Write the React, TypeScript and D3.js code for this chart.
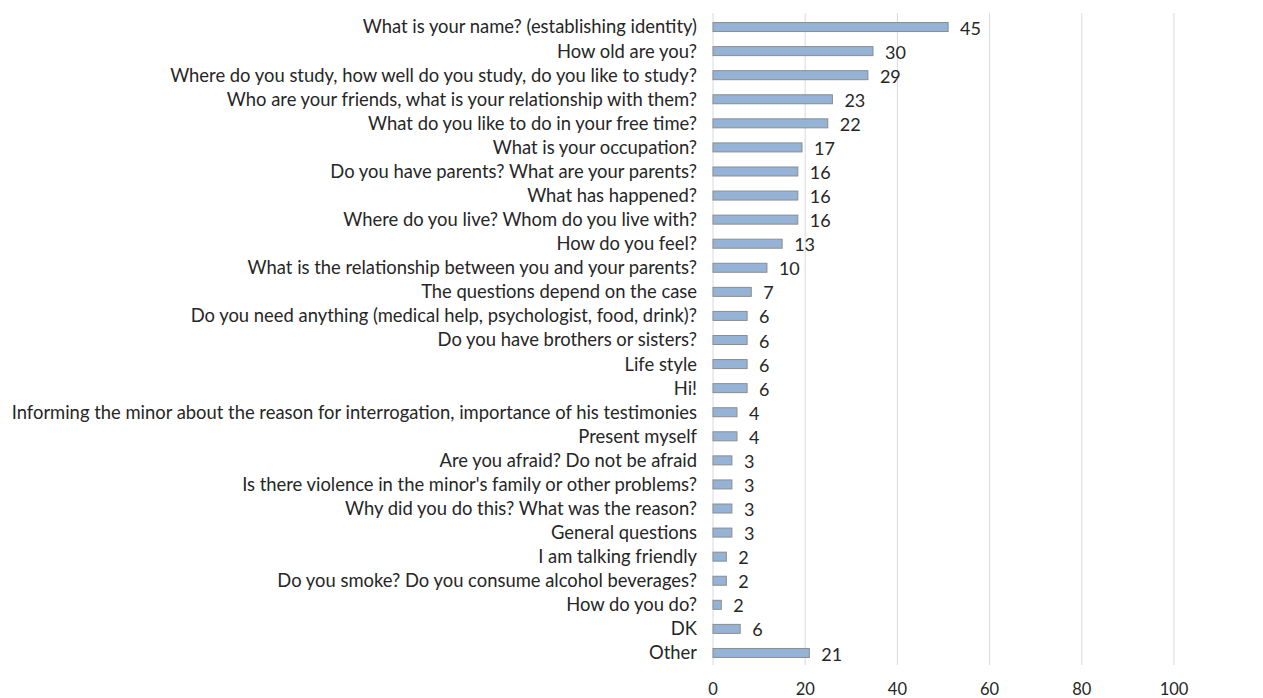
import React from "react";
import * as d3 from "d3";

const categories: string[] = [
  "What is your name? (establishing identity)",
  "How old are you?",
  "Where do you study, how well do you study, do you like to study?",
  "Who are your friends, what is your relationship with them?",
  "What do you like to do in your free time?",
  "What is your occupation?",
  "Do you have parents? What are your parents?",
  "What has happened?",
  "Where do you live? Whom do you live with?",
  "How do you feel?",
  "What is the relationship between you and your parents?",
  "The questions depend on the case",
  "Do you need anything (medical help, psychologist, food, drink)?",
  "Do you have brothers or sisters?",
  "Life style",
  "Hi!",
  "Informing the minor about the reason for interrogation, importance of his testimonies",
  "Present myself",
  "Are you afraid? Do not be afraid",
  "Is there violence in the minor's family or other problems?",
  "Why did you do this? What was the reason?",
  "General questions",
  "I am talking friendly",
  "Do you smoke? Do you consume alcohol beverages?",
  "How do you do?",
  "DK",
  "Other",
];

// data labels shown next to bars
const labelValues: number[] = [45, 30, 29, 23, 22, 17, 16, 16, 16, 13, 10, 7, 6, 6, 6, 6, 4, 4, 3, 3, 3, 3, 2, 2, 2, 6, 21];

// bar lengths
const barValues: number[] = [51, 34.7, 33.6, 25.9, 24.9, 19.3, 18.4, 18.4, 18.4, 15, 11.7, 8.3, 7.4, 7.4, 7.4, 7.4, 5.2, 5.2, 4.1, 4.1, 4.1, 4.1, 2.9, 2.9, 1.8, 5.9, 20.9];

const xTicks: number[] = [0, 20, 40, 60, 80, 100];

const W = 1263;
const H = 698;
const FONT = "Lato, 'Open Sans', sans-serif";

export default function App() {
  const left = 713;
  const right = 1174;
  const top = 15;
  const bottom = 665;

  const x = d3.scaleLinear().domain([0, 100]).range([left, right]);
  const y = d3
    .scaleBand<string>()
    .domain(categories)
    .range([top, bottom])
    .paddingInner(0.63)
    .paddingOuter(0.315);
  const bh = 9;
  const center = (c: string) => (y(c) as number) + y.bandwidth() / 2;

  return (
    <svg
      width={W}
      height={H}
      style={{ position: "absolute", left: 0, top: 0, background: "#fff" }}
      fontFamily={FONT}
    >
      {xTicks.map((t) => (
        <line
          key={"g" + t}
          x1={x(t)}
          x2={x(t)}
          y1={13}
          y2={bottom}
          stroke="#d9d9d9"
          strokeWidth={1}
        />
      ))}
      {categories.map((c, i) => {
        const cy = center(c);
        return (
          <g key={c}>
            <rect
              x={x(0)}
              y={cy - bh / 2}
              width={x(barValues[i]) - x(0)}
              height={bh}
              fill="#95b3d7"
              stroke="#8c8c8c"
              strokeWidth={1}
            />
            <text
              x={697}
              y={cy}
              dy="0.35em"
              textAnchor="end"
              fontSize={18.4}
              fill="#262626"
            >
              {c}
            </text>
            <text
              x={x(barValues[i]) + 12}
              y={cy}
              dy="0.42em"
              fontSize={18}
              fill="#262626"
            >
              {labelValues[i]}
            </text>
          </g>
        );
      })}
      {xTicks.map((t) => (
        <text
          key={"t" + t}
          x={x(t)}
          y={695}
          textAnchor="middle"
          fontSize={16.5}
          fill="#262626"
        >
          {t}
        </text>
      ))}
    </svg>
  );
}
